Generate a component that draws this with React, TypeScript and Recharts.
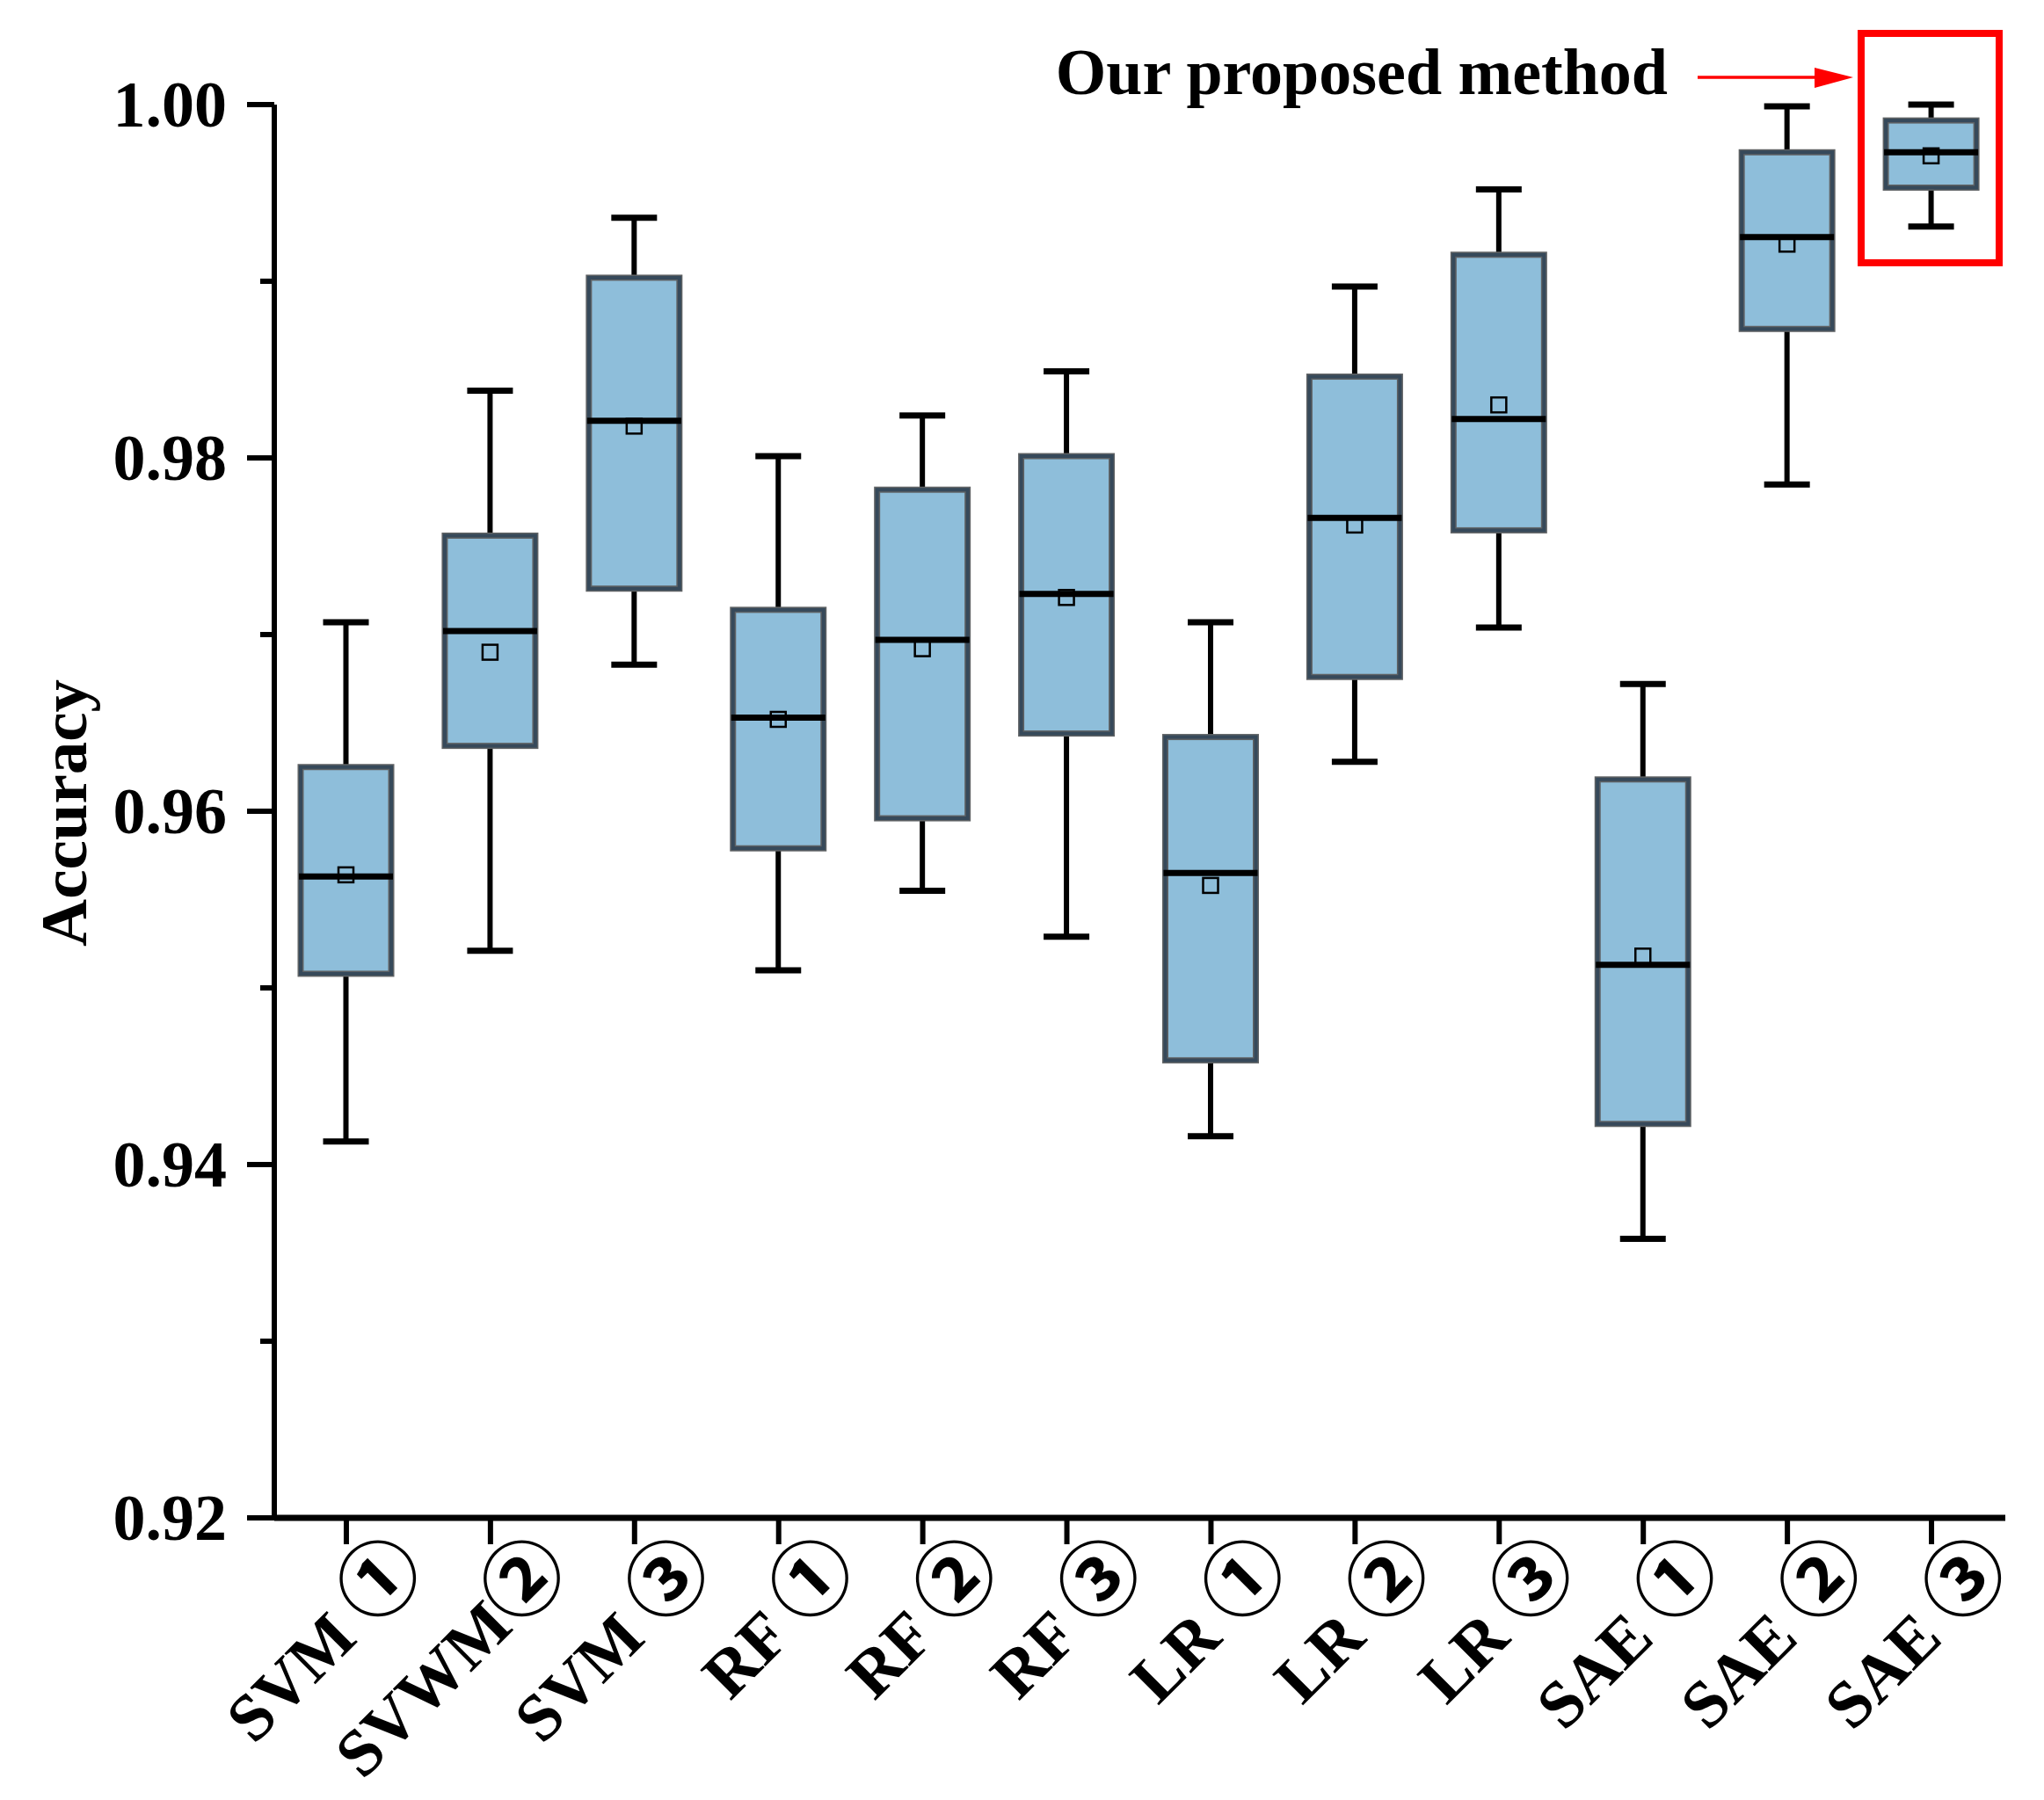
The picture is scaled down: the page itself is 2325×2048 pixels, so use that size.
import React from "react";
import { ComposedChart, Bar, XAxis, YAxis } from "recharts";

// one entry per method, left to right
const categories = ["SVM ①", "SVWM②", "SVM ③", "RF ①", "RF ②", "RF ③", "LR ①", "LR ②", "LR ③", "SAE ①", "SAE ②", "SAE ③"];
const whiskerLow = [0.9413, 0.9521, 0.9683, 0.951, 0.9555, 0.9529, 0.9416, 0.9628, 0.9704, 0.9358, 0.9785, 0.9931];
const q1 = [0.9508, 0.9637, 0.9726, 0.9579, 0.9596, 0.9644, 0.9459, 0.9676, 0.9759, 0.9423, 0.9873, 0.9953];
const median = [0.9563, 0.9702, 0.9821, 0.9653, 0.9697, 0.9723, 0.9565, 0.9766, 0.9822, 0.9513, 0.9925, 0.9973];
const q3 = [0.9625, 0.9756, 0.9902, 0.9714, 0.9782, 0.9801, 0.9642, 0.9846, 0.9915, 0.9618, 0.9973, 0.9991];
const whiskerHigh = [0.9707, 0.9838, 0.9936, 0.9801, 0.9824, 0.9849, 0.9707, 0.9897, 0.9952, 0.9672, 0.9999, 1.0];
const means = [0.9564, 0.969, 0.9818, 0.9652, 0.9692, 0.9721, 0.9558, 0.9762, 0.983, 0.9518, 0.9921, 0.9971];

const yTicks = [0.92, 0.93, 0.94, 0.95, 0.96, 0.97, 0.98, 0.99, 1.0];

const data = categories.map((name, i) => ({
  name,
  low: whiskerLow[i],
  q1: q1[i],
  median: median[i],
  q3: q3[i],
  high: whiskerHigh[i],
  mean: means[i],
}));

const SERIF = "'Liberation Serif', 'Times New Roman', serif";

const BoxShape = (props: any) => {
  const { x, y, width, height, payload } = props;
  const top = Math.min(y, y + height);
  const h = Math.abs(height);
  const span = payload.high - payload.low;
  const py = (v: number) => top + ((payload.high - v) / span) * h;
  const cx = x + width / 2;
  const cap = 26;
  const yHi = py(payload.high);
  const yQ3 = py(payload.q3);
  const yQ1 = py(payload.q1);
  const yLo = py(payload.low);
  const yMed = py(payload.median);
  const yMean = py(payload.mean);
  return (
    <g>
      <line x1={cx} x2={cx} y1={yHi} y2={yQ3} stroke="#000" strokeWidth={6} />
      <line x1={cx} x2={cx} y1={yQ1} y2={yLo} stroke="#000" strokeWidth={6} />
      <line x1={cx - cap} x2={cx + cap} y1={yHi} y2={yHi} stroke="#000" strokeWidth={7} />
      <line x1={cx - cap} x2={cx + cap} y1={yLo} y2={yLo} stroke="#000" strokeWidth={7} />
      <rect x={x} y={yQ3} width={width} height={yQ1 - yQ3} fill="#8EBEDA" stroke="#5f6264" strokeWidth={7} />
      <rect x={x} y={yQ3} width={width} height={yQ1 - yQ3} fill="none" stroke="#36495a" strokeWidth={4} />
      <line x1={x - 2} x2={x + width + 2} y1={yMed} y2={yMed} stroke="#000" strokeWidth={7} />
      <rect x={cx - 8.5} y={yMean - 8.5} width={17} height={17} fill="none" stroke="#000" strokeWidth={2.5} />
    </g>
  );
};

const YTick = (props: any) => {
  const { x, y, payload } = props;
  const v = payload.value as number;
  const major = Math.round(v * 100) % 2 === 0;
  if (!major) {
    return <line x1={x - 16} x2={x} y1={y} y2={y} stroke="#000" strokeWidth={6} />;
  }
  return (
    <g>
      <line x1={x - 31} x2={x} y1={y} y2={y} stroke="#000" strokeWidth={6} />
      <text x={x - 54} y={y + 25} textAnchor="end" fontFamily={SERIF} fontWeight={700} fontSize={74} fill="#000">
        {v.toFixed(2)}
      </text>
    </g>
  );
};

const XTick = (props: any) => {
  const { x, y, payload } = props;
  const label = String(payload.value);
  const circ = label.slice(-1);
  const name = label.slice(0, -1);
  return (
    <g transform={`translate(${x + 93},${y + 31}) rotate(-45)`}>
      <text textAnchor="end" fontFamily={SERIF} fontWeight={700} fontSize={76} fill="#000" style={{ whiteSpace: "pre" }}>
        <tspan>{name}</tspan>
        <tspan fontFamily="'Noto Sans CJK JP', 'Noto Sans CJK SC', sans-serif" fontSize={92}>
          {circ}
        </tspan>
      </text>
    </g>
  );
};

export default function App() {
  return (
    <div style={{ position: "absolute", left: 0, top: 0, width: 2325, height: 2048, background: "#fff" }}>
      <ComposedChart
        width={2325}
        height={2048}
        data={data}
        margin={{ top: 119, right: 44, bottom: 0, left: 0 }}
      >
        <XAxis
          dataKey="name"
          interval={0}
          height={321}
          padding={{ left: 0, right: 2 }}
          tickSize={30}
          tickMargin={0}
          tickLine={{ stroke: "#000", strokeWidth: 6 }}
          axisLine={{ stroke: "#000", strokeWidth: 7 }}
          tick={<XTick />}
        />
        <YAxis
          type="number"
          domain={[0.92, 1.0]}
          ticks={yTicks}
          interval={0}
          width={312}
          tickSize={0}
          tickMargin={0}
          tickLine={false}
          axisLine={{ stroke: "#000", strokeWidth: 6 }}
          tick={<YTick />}
        />
        <Bar dataKey={(d: any) => [d.low, d.high]} barSize={103} shape={BoxShape} isAnimationActive={false} />
      </ComposedChart>
      <svg width={2325} height={2048} style={{ position: "absolute", left: 0, top: 0, pointerEvents: "none" }}>
        <text transform="translate(98,925) rotate(-90)" textAnchor="middle" fontFamily={SERIF} fontWeight={700} fontSize={75} fill="#000">
          Accuracy
        </text>
        <text x={1897} y={107} textAnchor="end" fontFamily={SERIF} fontWeight={700} fontSize={74} fill="#000">
          Our proposed method
        </text>
        <line x1={1931} x2={2068} y1={88} y2={88} stroke="#ff0000" strokeWidth={3.5} />
        <polygon points="2064,77 2108,88 2064,100" fill="#ff0000" />
        <rect x={2117} y={38} width={157} height={261} fill="none" stroke="#ff0000" strokeWidth={8} />
      </svg>
    </div>
  );
}
